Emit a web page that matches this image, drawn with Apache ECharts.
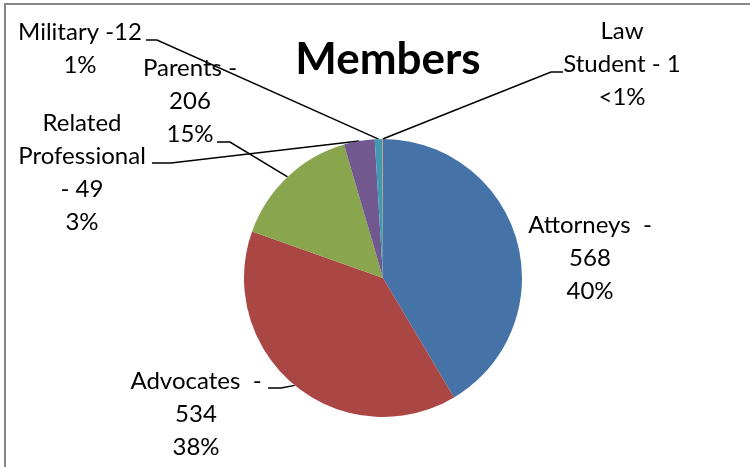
<!DOCTYPE html>
<html><head><meta charset="utf-8">
<script src="https://cdn.jsdelivr.net/npm/echarts@6/dist/echarts.min.js"></script>
<style>html,body{margin:0;padding:0;background:#fff}#c{width:750px;height:467px}</style>
</head><body><div id="c"></div>
<script>
// ---- data ----
const categories = ['Attorneys', 'Advocates', 'Parents', 'Related Professional', 'Military', 'Law Student'];
const memberCounts = [568, 534, 206, 49, 12, 1];
const percentLabels = ['40%', '38%', '15%', '3%', '1%', '<1%'];

// ---- styling / layout ----
const sliceColors = ['#4572A7', '#AA4643', '#89A54E', '#71588F', '#4198AF', '#DB843D'];
// label text templates: {n}=name, {v}=value, {p}=percent text
const labelTemplates = [
  '{n}  -\n{v}\n{p}',
  '{n}  -\n{v}\n{p}',
  '{n} -\n{v}\n{p}',
  'Related\nProfessional\n- {v}\n{p}',
  '{n} -{v}\n{p}',
  'Law\nStudent - {v}\n{p}'
];
// label block top-centre and leader-line elbow/end (pixels)
const labelBoxes = [
  { x: 590, y: 209 },
  { x: 196, y: 365, elbow: [281, 388], end: [268, 388] },
  { x: 190, y: 52, elbow: [230, 142], end: [217, 142] },
  { x: 82, y: 107, elbow: [171, 163], end: [152, 163] },
  { x: 80, y: 16, elbow: [157, 40], end: [146, 40] },
  { x: 622, y: 15, elbow: [551, 72], end: [563, 72] }
];

const chart = echarts.init(document.getElementById('c'), null, { renderer: 'canvas' });
const data = categories.map((n, i) => ({
  name: n,
  value: memberCounts[i],
  itemStyle: { color: sliceColors[i] },
  labelLine: { show: !!labelBoxes[i].elbow }
}));

chart.setOption({
  animation: false,
  backgroundColor: '#ffffff',
  title: {
    text: 'Members',
    left: 383, top: 33, textAlign: 'center',
    textStyle: { fontFamily: 'Lato', fontWeight: 'bold', fontSize: 44, color: '#000' }
  },
  graphic: [{
    type: 'rect', silent: true,
    shape: { x: 5, y: 4, width: 800, height: 520 },
    style: { fill: 'none', stroke: '#878787', lineWidth: 2 }
  }],
  series: [{
    type: 'pie',
    center: [383, 278],
    radius: 139,
    startAngle: 90,
    clockwise: true,
    avoidLabelOverlap: false,
    padAngle: 0,
    itemStyle: { borderWidth: 0 },
    emphasis: { disabled: true },
    label: {
      show: true,
      position: 'outside',
      fontFamily: 'Lato',
      fontSize: 24,
      lineHeight: 33,
      color: '#000',
      formatter: function (p) {
        return labelTemplates[p.dataIndex]
          .replace('{n}', p.name)
          .replace('{v}', p.value)
          .replace('{p}', percentLabels[p.dataIndex]);
      }
    },
    labelLine: { lineStyle: { color: '#000', width: 1.5 }, length: 10, length2: 10 },
    labelLayout: function (p) {
      const b = labelBoxes[p.dataIndex];
      const o = { x: b.x, y: b.y, align: 'center', verticalAlign: 'top' };
      if (b.elbow && p.labelLinePoints) {
        o.labelLinePoints = [p.labelLinePoints[0], b.elbow, b.end];
      }
      return o;
    },
    data: data
  }]
});
</script>
</body></html>
